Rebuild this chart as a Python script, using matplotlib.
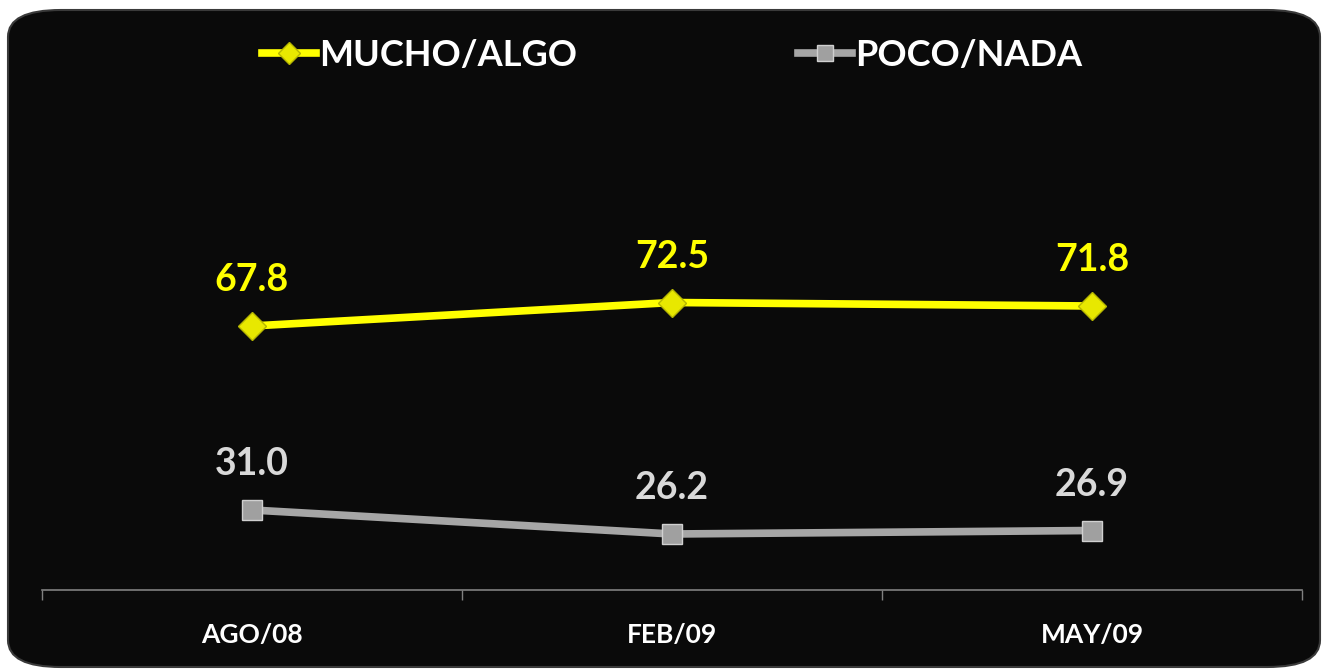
import numpy as np
import matplotlib.pyplot as plt
from matplotlib.patches import FancyBboxPatch

# data
periodos = ['AGO/08', 'FEB/09', 'MAY/09']
mucho_algo = [67.8, 72.5, 71.8]
poco_nada = [31.0, 26.2, 26.9]

plt.rcParams['font.family'] = ['Lato', 'DejaVu Sans']
plt.rcParams['font.weight'] = 'bold'

W, H = 1323, 671
fig = plt.figure(figsize=(W / 100, H / 100), dpi=100)
fig.patch.set_facecolor('white')

# black rounded panel behind the chart
panel = FancyBboxPatch((8 / W, 4 / H), 1312 / W, 657 / H,
                       boxstyle='round,pad=0,rounding_size=0.04',
                       transform=fig.transFigure, facecolor='#0a0a0a',
                       edgecolor='#3a3a3a', linewidth=1.5, zorder=-5)
fig.patches.append(panel)

ax = fig.add_axes([42 / W, 81 / H, 1260 / W, 450 / H])
ax.set_facecolor('none')
ax.set_zorder(2)

x = np.arange(len(periodos))
ax.plot(x, mucho_algo, color='#ffff00', lw=5.5, marker='D', ms=14,
        mfc='#e8e800', mec='#b5b500', mew=1, label='MUCHO/ALGO', zorder=3)
ax.plot(x, poco_nada, color='#a6a6a6', lw=5.5, marker='s', ms=15,
        mfc='#a0a0a0', mec='#d0d0d0', mew=1, label='POCO/NADA', zorder=3)

for xi, v in zip(x, mucho_algo):
    ax.annotate('%.1f' % v, (xi, v), xytext=(0, 33), textcoords='offset points',
                ha='center', va='center', color='#ffff00', fontsize=27,
                fontweight='bold')
for xi, v in zip(x, poco_nada):
    ax.annotate('%.1f' % v, (xi, v), xytext=(0, 33), textcoords='offset points',
                ha='center', va='center', color='#d9d9d9', fontsize=27,
                fontweight='bold')

ax.set_xlim(-0.5, 2.5)
ax.set_ylim(15, 105)

ax.set_xticks(x)
ax.set_xticklabels(periodos, color='white', fontsize=19, fontweight='bold')
ax.set_xticks([-0.5, 0.5, 1.5, 2.5], minor=True)
ax.tick_params(axis='x', which='major', length=0, pad=24)
ax.tick_params(axis='x', which='minor', length=7, width=1, color='#808080')
ax.set_yticks([])

for s in ['top', 'right', 'left']:
    ax.spines[s].set_visible(False)
ax.spines['bottom'].set_color('#808080')
ax.spines['bottom'].set_linewidth(1.2)

leg = fig.legend(loc='center', bbox_to_anchor=(672 / W, 1 - 55 / H), ncol=2,
                 frameon=False, fontsize=26, handlelength=1.5,
                 handletextpad=0.1, columnspacing=6.1, markerscale=0.8)
for t in leg.get_texts():
    t.set_color('white')
    t.set_fontweight('bold')

plt.savefig('out.png', dpi=100, facecolor=fig.get_facecolor())
